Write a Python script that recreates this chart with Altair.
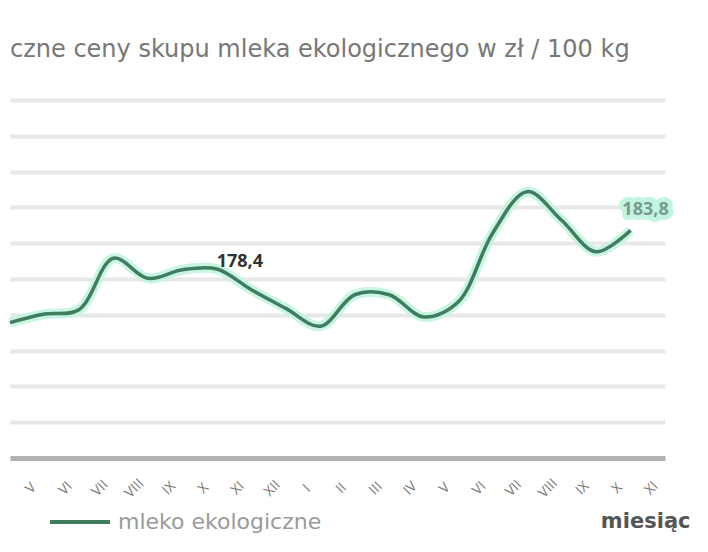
import json
import altair as alt
import pandas as pd

# ---- data ----
months = ["V", "VI", "VII", "VIII", "IX", "X", "XI", "XII", "I", "II",
          "III", "IV", "V", "VI", "VII", "VIII", "IX", "X", "XI"]
prices = [170.9, 172.1, 172.7, 179.9, 177.1, 178.3, 178.4, 175.5, 172.9, 170.4,
          174.8, 174.8, 171.7, 173.8, 183.4, 189.2, 185.2, 180.8, 183.8]
series_name = "mleko ekologiczne"
title_text = "czne ceny skupu mleka ekologicznego w zł / 100 kg"
x_title = "miesiąc"
y_domain = [152, 202]
grid_values = [152, 157, 162, 167, 172, 177, 182, 187, 192, 197, 202]
label_idx = [6, 18]
label_text = ["178,4", "183,8"]

df = pd.DataFrame({
    "idx": list(range(len(months))),
    "month": months,
    "price": prices,
    "series": [series_name] * len(months),
})
lab = pd.DataFrame({
    "idx": label_idx,
    "price": [prices[i] for i in label_idx],
    "text": label_text,
})

FONT = "Open Sans"
WIDE = "DejaVu Sans"
GREEN = "#3f7d5e"
MINT = "#c2f5e0"
LABEL_SHIFT = 0.6  # tick labels sit a little right of each month's point
x_values = [i + LABEL_SHIFT for i in range(len(months))]

x_enc = alt.X(
    "idx:Q",
    scale=alt.Scale(domain=[0, 19], nice=False, zero=False),
    axis=alt.Axis(
        values=x_values, tickCount=len(x_values) + 2,
        labelExpr=json.dumps(months) + "[floor(datum.value)]",
        labelAngle=-45, labelAlign="center", labelBaseline="middle",
        labelPadding=30, labelFontSize=14, labelColor="#7a7a7a",
        labelFont=FONT, labelOverlap=False, labelBound=False,
        ticks=False, grid=False,
        domainColor="#b3b3b3", domainWidth=5,
        title=x_title, titleFont=WIDE, titleFontSize=21, titleFontWeight="bold",
        titleColor="#555", titleAnchor="end", titleAlign="right",
        titleBaseline="middle", titleX=680, titleY=63,
    ),
)
y_enc = alt.Y(
    "price:Q",
    scale=alt.Scale(domain=y_domain, nice=False, zero=False),
    axis=alt.Axis(values=grid_values, tickCount=len(grid_values) + 2,
                  labels=False, ticks=False, domain=False,
                  labelOverlap=False, title=None, grid=True,
                  gridColor="#e8e8e8", gridWidth=4),
)

halo = alt.Chart(df).mark_line(
    strokeWidth=10, color=MINT, interpolate="catmull-rom", opacity=0.9
).encode(x=x_enc, y=y_enc)

line = alt.Chart(df).mark_line(
    strokeWidth=3.5, interpolate="catmull-rom"
).encode(
    x=x_enc, y=y_enc,
    color=alt.Color(
        "series:N",
        scale=alt.Scale(domain=[series_name], range=[GREEN]),
        legend=alt.Legend(
            title=None, orient="none", legendX=38, legendY=390,
            symbolType="stroke", symbolSize=3600, symbolStrokeWidth=4,
            labelFont=WIDE, labelFontSize=22, labelColor="#9a9a9a",
            labelOffset=6, padding=0, labelLimit=400,
        ),
    ),
)

lab1 = alt.Chart(lab.iloc[[0]]).mark_text(
    font=FONT, fontSize=18, fontWeight="bold", align="center",
    baseline="middle", dx=23, dy=-7, color="#333",
).encode(x="idx:Q", y="price:Q", text="text:N")

lab2_halo = alt.Chart(lab.iloc[[1]]).mark_text(
    font=FONT, fontSize=18, fontWeight="bold", align="center",
    baseline="middle", dx=15, dy=-20, color=MINT, stroke=MINT,
    strokeWidth=10, strokeJoin="round",
).encode(x="idx:Q", y="price:Q", text="text:N")

lab2 = alt.Chart(lab.iloc[[1]]).mark_text(
    font=FONT, fontSize=18, fontWeight="bold", align="center",
    baseline="middle", dx=15, dy=-20, color="#7a9a90",
).encode(x="idx:Q", y="price:Q", text="text:N")

chart = alt.layer(halo, line, lab1, lab2_halo, lab2).properties(
    width=655, height=358,
    background="white",
    title=alt.Title(title_text, anchor="start", frame="group", font=WIDE,
                    fontSize=24, fontWeight="normal", color="#777",
                    baseline="bottom", offset=14),
    padding={"left": 2, "top": 92, "right": 35, "bottom": 86},
    autosize=alt.AutoSizeParams(type="none"),
).configure_view(stroke=None)

chart.save("out.html", embed_options={"renderer": "svg", "actions": False})
